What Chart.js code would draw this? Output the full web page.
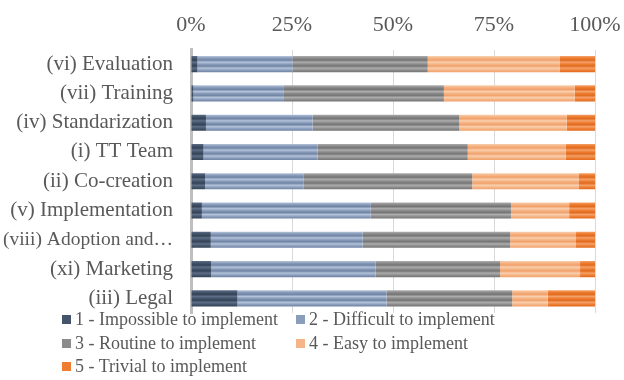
<!DOCTYPE html>
<html>
<head>
<meta charset="utf-8">
<script src="https://cdn.jsdelivr.net/npm/chart.js@4.4.0/dist/chart.umd.min.js"></script>
<style>
  html, body { margin: 0; padding: 0; background: #fff; }
  #wrap { position: relative; width: 624px; height: 380px; }
  #legend { position: absolute; left: 62px; top: 307px; width: 560px;
    font-family: "Liberation Serif", "Times New Roman", serif; font-size: 18px; color: #595959; }
  .item { position: absolute; white-space: nowrap; line-height: 24px; }
  .box { display: inline-block; width: 9px; height: 9px; margin-right: 4px; vertical-align: 1px; }
</style>
</head>
<body>
<div id="wrap">
  <canvas id="chart" width="624" height="380"></canvas>
  <div id="legend"></div>
</div>
<script>
const categories = ['(vi) Evaluation', '(vii) Training', '(iv) Standarization', '(i) TT Team',
  '(ii) Co-creation', '(v) Implementation', '(viii) Adoption and\u2026', '(xi) Marketing', '(iii) Legal'];
const seriesNames = ['1 - Impossible to implement', '2 - Difficult to implement',
  '3 - Routine to implement', '4 - Easy to implement', '5 - Trivial to implement'];
const impossible = [1.6, 0.6, 3.7, 3.1, 3.5, 2.7, 4.9, 5.0, 11.5];
const difficult  = [23.5, 22.4, 26.4, 28.2, 24.3, 41.8, 37.6, 40.7, 36.9];
const routine    = [33.5, 39.6, 36.3, 37.2, 41.8, 34.7, 36.5, 30.8, 31.1];
const easy       = [32.6, 32.4, 26.6, 24.2, 26.3, 14.4, 16.3, 19.8, 8.8];
const trivial    = [8.8, 5.0, 7.0, 7.3, 4.1, 6.4, 4.7, 3.7, 11.7];
const tickLabels = ['0%', '25%', '50%', '75%', '100%'];

const colors = [
  { base: '#44546A', dark: '#344256', light: '#5E6E86' },
  { base: '#8A9DBB', dark: '#6F83A3', light: '#B4C3DA' },
  { base: '#8C8C8C', dark: '#747474', light: '#ADADAD' },
  { base: '#F5B586', dark: '#F1A06A', light: '#F9CFAE' },
  { base: '#EE7D32', dark: '#E06A1E', light: '#F4A16A' }
];

const BAR_H = 16;
const serif = '"Liberation Serif", "Times New Roman", serif';

// striped fill like the Excel picture
function stripe(idx) {
  return function (ctx) {
    const chart = ctx.chart;
    const y = chart.scales.y;
    const c = colors[idx];
    if (!y || ctx.dataIndex === undefined) return c.base;
    const yc = y.getPixelForValue(ctx.dataIndex);
    if (!isFinite(yc)) return c.base;
    const g = chart.ctx.createLinearGradient(0, yc - BAR_H / 2, 0, yc + BAR_H / 2);
    g.addColorStop(0, c.light);
    g.addColorStop(0.12, c.base);
    g.addColorStop(0.25, c.dark);
    g.addColorStop(0.38, c.light);
    g.addColorStop(0.5, c.base);
    g.addColorStop(0.62, c.dark);
    g.addColorStop(0.75, c.light);
    g.addColorStop(0.88, c.base);
    g.addColorStop(1, c.dark);
    return g;
  };
}

const values = [impossible, difficult, routine, easy, trivial];
const datasets = values.map((v, i) => ({
  label: seriesNames[i],
  data: v,
  backgroundColor: stripe(i),
  borderWidth: 0,
  barPercentage: 0.55,
  categoryPercentage: 1
}));

new Chart(document.getElementById('chart'), {
  type: 'bar',
  data: { labels: categories, datasets: datasets },
  options: {
    indexAxis: 'y',
    responsive: false,
    animation: false,
    layout: { padding: { left: 0, right: 0, top: 0, bottom: 67 } },
    plugins: { legend: { display: false }, tooltip: { enabled: false } },
    scales: {
      x: {
        position: 'top',
        stacked: true,
        min: 0,
        max: 100,
        afterFit: function (scale) {
          scale.height = 49.5;
          scale.paddingRight = 29;
        },
        grid: { color: '#D9D9D9', lineWidth: 1, drawTicks: false },
        border: { display: false },
        ticks: {
          stepSize: 25,
          padding: 11,
          color: '#595959',
          font: { family: serif, size: 22 },
          callback: function (value) { return tickLabels[value / 25]; }
        }
      },
      y: {
        stacked: true,
        afterFit: function (scale) { scale.width = 191; },
        grid: { display: false },
        border: { color: '#BFBFBF', width: 3 },
        ticks: {
          padding: 10,
          color: '#595959',
          // the long truncated label is a touch smaller so it stays inside the canvas
          font: function (ctx) {
            return { family: serif, size: ctx.index === 6 ? 19.5 : 21 };
          }
        }
      }
    }
  }
});

// legend, laid out as in the picture (two columns)
const legendPos = [[0, 0], [234, 0], [0, 23.5], [234, 23.5], [0, 47]];
const legend = document.getElementById('legend');
seriesNames.forEach((name, i) => {
  const el = document.createElement('div');
  el.className = 'item';
  el.style.left = legendPos[i][0] + 'px';
  el.style.top = legendPos[i][1] + 'px';
  el.innerHTML = '<span class="box" style="background:' + colors[i].base + '"></span>' + name;
  legend.appendChild(el);
});
</script>
</body>
</html>
